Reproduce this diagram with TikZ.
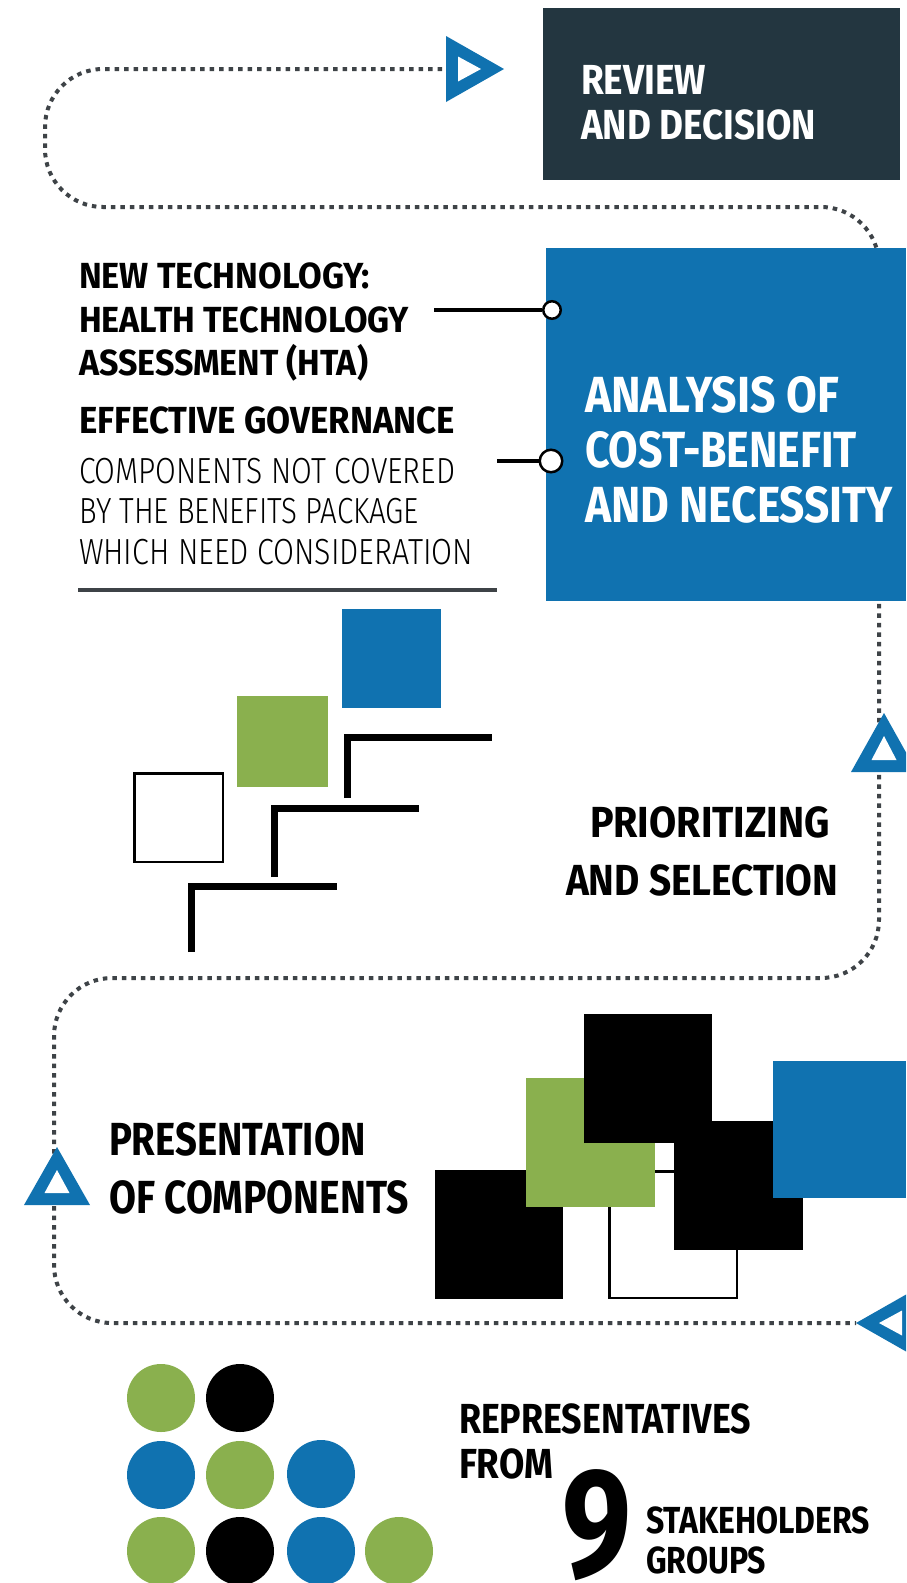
\documentclass[tikz,border=0pt]{standalone}
\usepackage{fontspec}
\usepackage{graphicx}
\setmainfont{Fira Sans}
\newfontfamily\lightfont{Fira Sans Light}
\definecolor{hblue}{RGB}{16,114,176}
\definecolor{hgreen}{RGB}{138,176,78}
\definecolor{hnavy}{RGB}{35,54,64}
\definecolor{hdot}{RGB}{62,67,71}
\newcommand\hbt[3]{{\fontsize{#1pt}{#1pt}\selectfont\bfseries\resizebox{#2pt}{\height}{#3}}}
\newcommand\hlt[3]{{\lightfont\fontsize{#1pt}{#1pt}\selectfont\resizebox{#2pt}{\height}{#3}}}
\tikzset{
  dotpath/.style={draw=hdot, line width=4pt, dash pattern=on 4.5pt off 5pt, rounded corners=58pt},
  stair/.style={line width=7pt, line join=miter},
  txt/.style={anchor=base west, inner sep=0pt, outer sep=0pt},
  outl/.style={draw=black, line width=2.5pt, fill=white},
  knob/.style={circle, draw=black, fill=white, line width=2.5pt, inner sep=0pt},
  conn/.style={line width=3.5pt}
}
\begin{document}
\begin{tikzpicture}[x=1pt,y=-1pt]
\useasboundingbox (0,0) rectangle (906,1583);
\clip (0,0) rectangle (906,1583);
\fill[white] (0,0) rectangle (906,1583);

% dotted process path
\coordinate (p0) at (442,69);
\coordinate (p1) at (45,69);
\coordinate (p2) at (45,207);
\coordinate (p3) at (879,207);
\coordinate (p4) at (879,978);
\coordinate (p5) at (54,978);
\coordinate (p6) at (54,1323);
\coordinate (p7) at (856,1323);
\draw[dotpath] (p0) -- (p1) -- (p2) -- (p3) -- (p4) -- (p5) -- (p6) -- (p7);

% boxes
\fill[hnavy] (543,8) rectangle (900,180);
\fill[hblue] (546,248) rectangle (906,601);

% triangles
\fill[hblue] (446,36) -- (504,69) -- (446,102) -- cycle;
\fill[white] (458,56.5) -- (481,69) -- (458,81.5) -- cycle;
\fill[hblue] (884,713) -- (917,772) -- (851,772) -- cycle;
\fill[white] (884,736) -- (896.5,760) -- (871.5,760) -- cycle;
\fill[hblue] (57,1147) -- (90,1205) -- (24,1205) -- cycle;
\fill[white] (57,1170) -- (69.5,1193) -- (44.5,1193) -- cycle;
\fill[hblue] (856,1323) -- (914,1290) -- (914,1356) -- cycle;
\fill[white] (879,1323) -- (902,1310.5) -- (902,1335.5) -- cycle;

% review text
\node[txt, text=white] (rev1) at (581,94) {\hbt{42}{125}{REVIEW}};
\node[txt, text=white] (rev2) at (581,139) {\hbt{42}{235}{AND DECISION}};

% analysis text
\node[txt, text=white] (an1) at (585,412) {\hbt{50.8}{254}{ANALYSIS OF}};
\node[txt, text=white] (an2) at (585,467) {\hbt{50.8}{272}{COST-BENEFIT}};
\node[txt, text=white] (an3) at (585,522) {\hbt{50.8}{308}{AND NECESSITY}};

% left texts
\node[txt] (nt1) at (79,288) {\hbt{36.3}{291}{NEW TECHNOLOGY:}};
\node[txt] (nt2) at (79,332) {\hbt{36.3}{330}{HEALTH TECHNOLOGY}};
\node[txt] (nt3) at (79,375) {\hbt{36.3}{289}{ASSESSMENT (HTA)}};
\node[txt] (eg) at (79,433) {\hbt{37.7}{376}{EFFECTIVE GOVERNANCE}};
\node[txt] (cn1) at (79,483) {\hlt{36.3}{376}{COMPONENTS NOT COVERED}};
\node[txt] (cn2) at (79,523) {\hlt{36.3}{340}{BY THE BENEFITS PACKAGE}};
\node[txt] (cn3) at (79,564) {\hlt{36.3}{394}{WHICH NEED CONSIDERATION}};
\fill[hdot] (78,588.3) rectangle (497,591.7);

% connectors with knobs
\coordinate (k1s) at (434,310);
\coordinate (k2s) at (497,461);
\node[knob, minimum size=17.5pt] (k1) at (552,310) {};
\node[knob, minimum size=22.5pt] (k2) at (551,461) {};
\draw[conn] (k1s) -- (k1.west);
\draw[conn] (k2s) -- (k2.west);

% stairs graphic
\fill[hblue] (342,609) rectangle (441,708);
\fill[hgreen] (237,696) rectangle (328,787);
\filldraw[outl] (134.25,773.25) rectangle (222.75,861.75);
\draw[stair] (347,798) -- (347,737) -- (492,737);
\draw[stair] (274,877) -- (274,808) -- (419,808);
\draw[stair] (191,952) -- (191,886) -- (337,886);

\node[txt] (pr1) at (590,837) {\hbt{43.5}{240}{PRIORITIZING}};
\node[txt] (pr2) at (566,895) {\hbt{43.5}{272}{AND SELECTION}};

% components graphic
\fill[black] (435,1170) rectangle (563,1299);
\filldraw[outl] (609.25,1171.25) rectangle (736.75,1297.75);
\fill[hgreen] (526,1078) rectangle (655,1207);
\fill[black] (584,1014) rectangle (712,1143);
\fill[black] (674,1121) rectangle (803,1250);
\fill[hblue] (773,1061) rectangle (906,1198);

\node[txt] (pc1) at (109,1155) {\hbt{46.4}{257}{PRESENTATION}};
\node[txt] (pc2) at (109,1213) {\hbt{46.4}{300}{OF COMPONENTS}};

% stakeholder dots
\fill[hgreen] (161,1398) circle (34);
\fill[black] (240,1398) circle (34);
\fill[hblue] (161,1475) circle (34);
\fill[hgreen] (240,1475) circle (34);
\fill[hblue] (321,1474) circle (34);
\fill[hgreen] (161,1551) circle (34);
\fill[black] (240,1551) circle (34);
\fill[hblue] (321,1551) circle (34);
\fill[hgreen] (399,1551) circle (34);

\node[txt] (rp1) at (459,1433) {\hbt{42}{292}{REPRESENTATIVES}};
\node[txt] (rp2) at (459,1478) {\hbt{42}{94}{FROM}};
\node[txt] (nine) at (562,1576) {\hbt{155}{69}{9}};
\node[txt] (sh1) at (646,1533) {\hbt{37.7}{224}{STAKEHOLDERS}};
\node[txt] (sh2) at (646,1573) {\hbt{37.7}{120}{GROUPS}};
\end{tikzpicture}
\end{document}
